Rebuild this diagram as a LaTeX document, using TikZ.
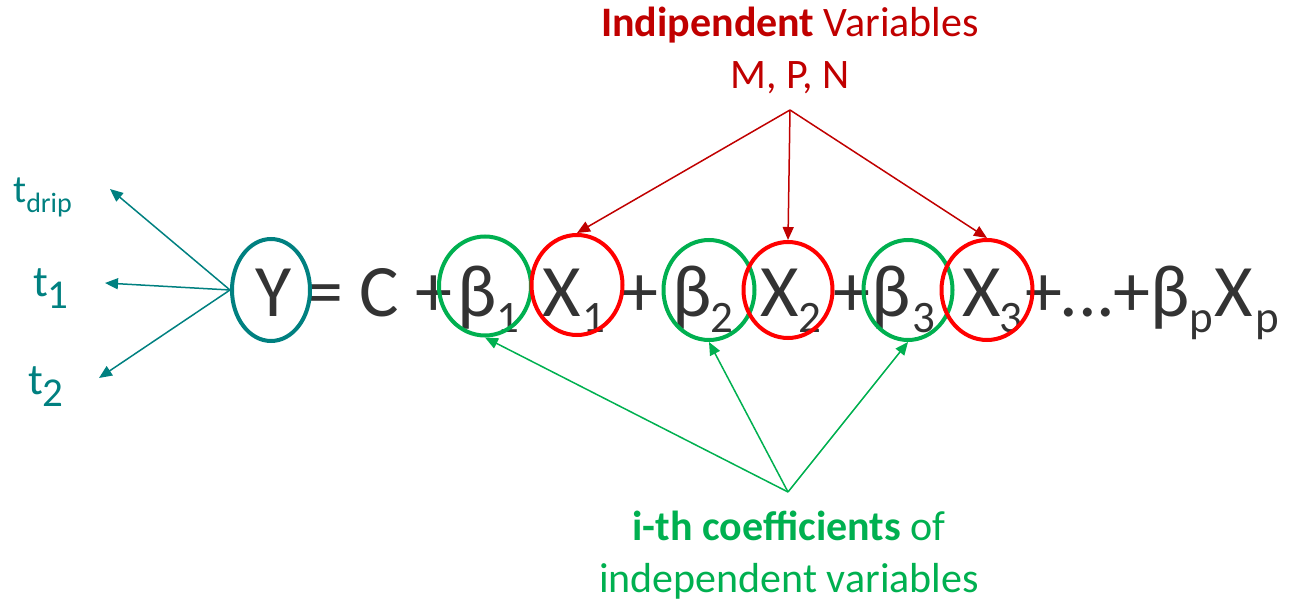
\documentclass[tikz,border=0pt]{standalone}
\usepackage{fontspec}
\setmainfont{Carlito}
\usetikzlibrary{arrows.meta,shapes.geometric}
\definecolor{eqgray}{HTML}{333333}
\definecolor{darkred}{HTML}{C00000}
\definecolor{brightred}{HTML}{FF0000}
\definecolor{mygreen}{HTML}{00B050}
\definecolor{myteal}{HTML}{008080}
\newcommand\EqFont{\fontsize{74}{80}\selectfont}
\newcommand\EqSub{\fontsize{45}{48}\selectfont}
\newcommand\LblFont{\fontsize{42}{48}\selectfont}
\tikzset{
  eqtok/.style={font=\EqFont, text=eqgray, inner sep=0pt, anchor=base},
  eqsub/.style={font=\EqSub, text=eqgray, inner sep=0pt, anchor=base},
  ring/.style={ellipse, draw=#1, line width=4pt, inner sep=0pt},
  tlabel/.style={text=myteal, inner sep=0pt, anchor=base west},
  tealarrow/.style={draw=myteal, line width=1.5pt, -{Triangle[length=13pt,width=11pt]}},
  redarrow/.style={draw=darkred, line width=1.5pt, -{Triangle[length=13pt,width=11pt]}},
  greenarrow/.style={draw=mygreen, line width=1.5pt, -{Triangle[length=13pt,width=11pt]}},
}
\begin{document}
\begin{tikzpicture}[x=1pt,y=-1pt]
\useasboundingbox (0,0) rectangle (1299,601);

% equation tokens
\node[eqtok] (eY) at (273.5,317) {Y};
\node[eqtok] (eEq) at (325,317) {=};
\node[eqtok] (eC) at (379.5,317) {C};
\node[eqtok] (ePlA) at (434,317) {+};
\node[eqtok] (eBa) at (477,317) {β};
\node[eqsub] (sBa) at (507.5,333) {1};
\node[eqtok] (eXa) at (561.5,317) {X};
\node[eqsub] (sXa) at (594,333) {1};
\node[eqtok] (ePlB) at (639.5,317) {+};
\node[eqtok] (eBb) at (692,317) {β};
\node[eqsub] (sBb) at (721.5,333) {2};
\node[eqtok] (eXb) at (779.5,317) {X};
\node[eqsub] (sXb) at (810,333) {2};
\node[eqtok] (ePlC) at (852,317) {+};
\node[eqtok] (eBc) at (891,317) {β};
\node[eqsub] (sBc) at (924,333) {3};
\node[eqtok] (eXc) at (981.5,317) {X};
\node[eqsub] (sXc) at (1011,333) {3};
\node[eqtok] (ePlD) at (1044,317) {+};
\node[eqtok] (eDots) at (1087.5,317) {...};
\node[eqtok] (ePlE) at (1132,317) {+};
\node[eqtok] (eBp) at (1170,317) {β};
\node[eqsub] (sBp) at (1201.5,333) {p};
\node[eqtok] (eXp) at (1234,317) {X};
\node[eqsub] (sXp) at (1267.5,333) {p};

% circles
\node[ring=myteal, minimum width=78pt, minimum height=102pt] (cY) at (271,290) {};
\node[ring=mygreen, minimum width=92pt, minimum height=99pt] (cBa) at (485,286) {};
\node[ring=brightred, minimum width=91pt, minimum height=100pt] (cXa) at (577,285) {};
\node[ring=mygreen, minimum width=91pt, minimum height=100pt] (cBb) at (709,290) {};
\node[ring=brightred, minimum width=89pt, minimum height=96pt] (cXb) at (788,290) {};
\node[ring=mygreen, minimum width=89pt, minimum height=100pt] (cBc) at (908,290) {};
\node[ring=brightred, minimum width=91pt, minimum height=100pt] (cXc) at (987,290) {};

% teal labels
\node[tlabel, font=\fontsize{39}{40}\selectfont] (tdrip) at (13,203) {t\raisebox{-10pt}{\fontsize{28}{30}\selectfont drip}};
\node[tlabel, font=\fontsize{44}{46}\selectfont] (tone) at (33,297) {t\raisebox{-12pt}{\fontsize{41}{42}\selectfont 1}};
\node[tlabel, font=\fontsize{44}{46}\selectfont] (ttwo) at (28,395) {t\raisebox{-12pt}{\fontsize{41}{42}\selectfont 2}};
\coordinate (pdrip) at (110,189);
\coordinate (pone) at (105,283);
\coordinate (ptwo) at (99,378);
\draw[tealarrow] (cY.west) -- (pdrip);
\draw[tealarrow] (cY.west) -- (pone);
\draw[tealarrow] (cY.west) -- (ptwo);

% independent variables label
\node[text=darkred, font=\LblFont, inner sep=0pt, anchor=base] (indep) at (790,37) {\textbf{Indipendent} Variables};
\node[text=darkred, font=\LblFont, inner sep=0pt, anchor=base] (mpn) at (790,89) {M, P, N};
\coordinate (rsrc) at (790,110);
\draw[redarrow] (rsrc) -- (cXa.north);
\draw[redarrow] (rsrc) -- (cXb.north);
\draw[redarrow] (rsrc) -- (cXc.north);

% coefficients label
\node[text=mygreen, font=\LblFont, inner sep=0pt, anchor=base] (coef) at (789,540) {\textbf{i-th coefficients} of};
\node[text=mygreen, font=\LblFont, inner sep=0pt, anchor=base] (coefb) at (789,592) {independent variables};
\coordinate (gsrc) at (788,492);
\draw[greenarrow] (gsrc) -- (cBa.south);
\draw[greenarrow] (gsrc) -- (cBb.south);
\draw[greenarrow] (gsrc) -- (cBc.south);
\end{tikzpicture}
\end{document}
